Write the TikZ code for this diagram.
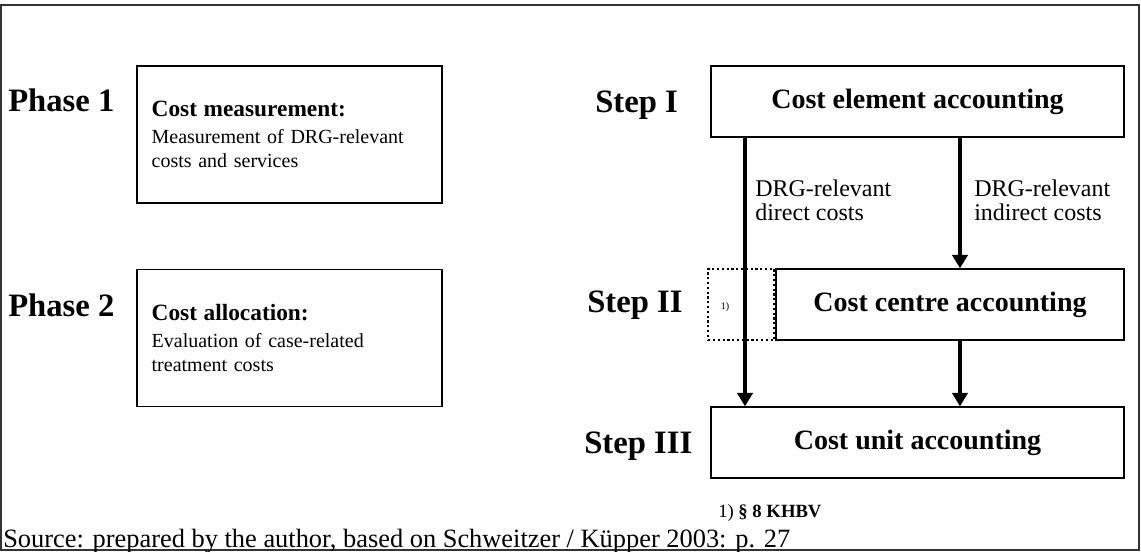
\documentclass[tikz,border=0pt]{standalone}
\usepackage{fontspec}
\setmainfont{Liberation Serif}
\usetikzlibrary{arrows.meta,positioning}

\begin{document}
\begin{tikzpicture}[x=0.75pt,y=-0.75pt,
  box/.style={draw,line width=1.1pt,inner sep=0pt},
  phasebox/.style={box,align=left,text width=206.75pt,inner xsep=11pt,
    minimum height=102.5pt,font=\fontsize{15}{18}\selectfont},
  accbox/.style={box,minimum height=53.25pt,font=\fontsize{21}{25}\selectfont\bfseries},
  notebox/.style={draw,dotted,line width=1.6pt,minimum width=49.5pt,minimum height=53.25pt,inner sep=0pt},
  stagelbl/.style={inner sep=0pt,anchor=base west,font=\fontsize{24.5}{25}\selectfont\bfseries},
  costlbl/.style={inner sep=0pt,anchor=north west,align=left,font=\fontsize{18}{18}\selectfont},
  arrow/.style={-{Triangle[length=10pt,width=11.5pt]},line width=2.3pt}]
\useasboundingbox (0,0) rectangle (1141,552);
\draw[line width=1.2pt,black!80] (1,5) rectangle (1139,550);
% left column
\node[stagelbl] (phaseA) at (8,112) {Phase 1};
\node[stagelbl] (phaseB) at (8,316) {Phase 2};
\node[phasebox] (measure) at (289.5,134.5) {{\fontsize{17.5}{18}\selectfont\bfseries Cost measurement:}\\[2pt]
  Measurement of DRG-relevant\\costs and services};
\node[phasebox] (alloc) at (289.5,338) {{\fontsize{17.5}{18}\selectfont\bfseries Cost allocation:}\\[2pt]
  Evaluation of case-related\\treatment costs};
% right column
\node[stagelbl] (stepA) at (595,113) {Step I};
\node[stagelbl] (stepB) at (587,312) {Step II};
\node[stagelbl] (stepC) at (584,453) {Step III};
\node[accbox,minimum width=309.75pt] (element) at (917.5,101.5) {Cost element accounting};
\node[accbox,minimum width=261pt] (centre) at (950,304.5) {Cost centre accounting};
\node[notebox,left=0pt of centre] (note) {};
\node[inner sep=0pt,font=\fontsize{7.5}{8}\selectfont] (mark) at (725,307) {1)};
\node[accbox,minimum width=309.75pt] (unit) at (917.5,442.5) {Cost unit accounting};
\coordinate (dl) at (745,0);
\coordinate (dr) at (960,0);
\draw[arrow] (element.south -| dl) -- (unit.north -| dl);
\draw[arrow] (element.south -| dr) -- (centre.north -| dr);
\draw[arrow] (centre.south -| dr) -- (unit.north -| dr);
\node[costlbl] (direct) at (755,180) {DRG-relevant\\direct costs};
\node[costlbl] (indirect) at (974,180) {DRG-relevant\\indirect costs};
% notes
\node[inner sep=0pt,anchor=base west,font=\fontsize{14}{14}\selectfont] (foot) at (718,517) {1) \textbf{§ 8 KHBV}};
\node[inner sep=0pt,anchor=base west,font=\fontsize{19.8}{20}\selectfont] (source) at (3,547)
  {Source: prepared by the author, based on Schweitzer / Küpper 2003: p. 27};
\end{tikzpicture}
\end{document}
